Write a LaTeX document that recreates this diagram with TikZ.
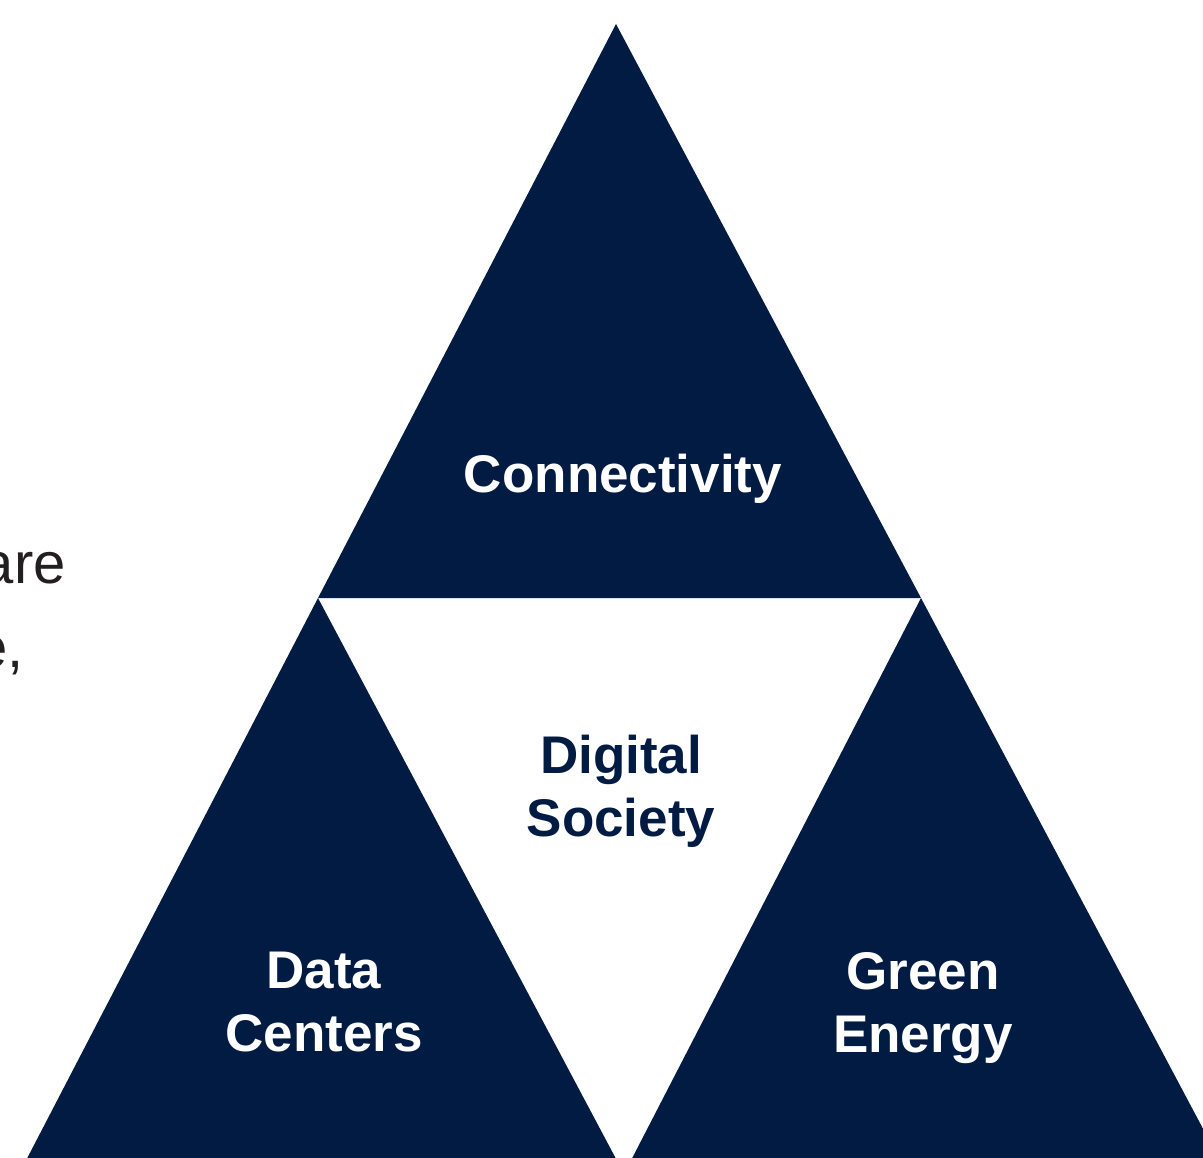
\documentclass[tikz,border=0pt]{standalone}
\usepackage{fontspec}
\setmainfont{Liberation Sans}
\usepackage{tikz}
\usetikzlibrary{calc}

\definecolor{navy}{RGB}{2,27,67}
\definecolor{inkgray}{RGB}{35,31,32}

\begin{document}
\begin{tikzpicture}[x=0.5pt,y=-0.5pt,
        pillar/.style={fill=navy},
        label/.style={font=\bfseries\fontsize{26.5}{31.5}\selectfont, align=center, inner sep=0pt},
        body/.style={font=\fontsize{29}{40}\selectfont, text=inkgray, inner sep=0pt, anchor=base east}]
        % page frame
        \clip (0,0) rectangle (1203,1157);

        % corners
        % -------
        \coordinate (Apex) at (616,24);
        \coordinate (Pl) at (318,598);
        \coordinate (Pr) at (921,598);
        \coordinate (Bl) at (20,1172);
        \coordinate (Bm) at (623,1172);
        \coordinate (Bn) at (625,1172);
        \coordinate (Br) at (1226,1172);

        % draw triangles
        \fill[pillar] (Apex) -- (Pl) -- (Pr) -- cycle;
        \fill[pillar] (Pl) -- (Bl) -- (Bm) -- cycle;
        \fill[pillar] (Pr) -- (Bn) -- (Br) -- cycle;

        % add labels
        \node[label, text=white] (conn) at (623,479) {Connectivity};
        \node[label, text=navy] (soc) at (621,791) {Digital\\Society};
        \node[label, text=white] (dc) at (324,1002) {Data\\Centers};
        \node[label, text=white] (ge) at (923,1008) {Green\\Energy};

        % cut-off body text on the left
        \node[body] (are) at (66,583) {are};
        \node[body] (ecomma) at (24,667) {e,};
    \end{tikzpicture}
\end{document}
